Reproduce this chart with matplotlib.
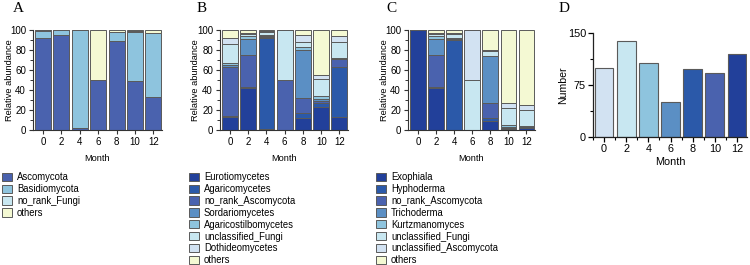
import numpy as np
import matplotlib
matplotlib.use("Agg")
import matplotlib.pyplot as plt
from matplotlib.patches import Patch
from matplotlib.ticker import MultipleLocator

plt.rcParams['font.family'] = ['Liberation Sans', 'DejaVu Sans']

months = ["0", "2", "4", "6", "8", "10", "12"]

# Panel A: phylum level
a_labels = ["Ascomycota", "Basidiomycota", "no_rank_Fungi", "others"]
a_ascomycota    = [92.5, 95.0, 1.7, 50.0, 89.0, 49.0, 33.3]
a_basidiomycota = [7.0, 4.8, 98.0, 0.0, 8.7, 49.3, 63.4]
a_no_rank_fungi = [0.3, 0.1, 0.2, 0.0, 0.8, 0.7, 0.3]
a_others        = [0.2, 0.1, 0.1, 50.0, 1.5, 1.0, 3.0]

# Panel B: class level
b_labels = ["Eurotiomycetes", "Agaricomycetes", "no_rank_Ascomycota", "Sordariomycetes",
            "Agaricostilbomycetes", "unclassified_Fungi", "Dothideomycetes", "others"]
b_eurotiomycetes       = [13.0, 42.5, 1.0, 0.0, 12.5, 23.5, 13.5]
b_agaricomycetes       = [1.0, 1.0, 91.0, 0.0, 5.0, 4.0, 50.0]
b_no_rank_ascomycota   = [49.0, 31.5, 1.0, 50.0, 15.0, 1.5, 7.5]
b_sordariomycetes      = [2.0, 16.5, 1.5, 0.0, 48.0, 2.0, 1.0]
b_agaricostilbomycetes = [2.5, 2.5, 1.0, 0.0, 2.5, 3.0, 0.5]
b_unclassified_fungi   = [18.5, 2.0, 3.0, 50.0, 5.0, 17.5, 16.0]
b_dothideomycetes      = [6.5, 1.5, 0.5, 0.0, 7.5, 4.0, 5.5]
b_others               = [7.5, 2.5, 1.0, 0.0, 4.5, 44.5, 6.0]

# Panel C: genus level
c_labels = ["Exophiala", "Hyphoderma", "no_rank_Ascomycota", "Trichoderma",
            "Kurtzmanomyces", "unclassified_Fungi", "unclassified_Ascomycota", "others"]
c_exophiala               = [100.0, 42.5, 0.5, 0.0, 9.5, 1.0, 2.5]
c_hyphoderma              = [0.0, 0.5, 90.0, 0.0, 3.0, 0.5, 1.0]
c_no_rank_ascomycota      = [0.0, 32.0, 0.3, 0.0, 14.5, 0.5, 0.3]
c_trichoderma             = [0.0, 16.5, 0.5, 0.0, 47.0, 1.0, 0.2]
c_kurtzmanomyces          = [0.0, 2.5, 0.7, 0.0, 0.5, 2.0, 0.5]
c_unclassified_fungi      = [0.0, 2.0, 4.0, 50.0, 5.0, 17.5, 16.0]
c_unclassified_ascomycota = [0.0, 1.5, 1.5, 50.0, 1.0, 5.0, 4.5]
c_others                  = [0.0, 2.5, 2.5, 0.0, 19.5, 72.5, 75.0]

# Panel D: number
d_months = [0, 2, 4, 6, 8, 10, 12]
d_number = [99, 139, 107, 51, 98, 93, 119]

# colours
NAVY = "#22409A"
BLUE = "#2B59A9"
MBLUE = "#4A62AE"
SBLUE = "#5B8FC4"
LBLUE = "#8EC4DE"
CYAN = "#C8E7F1"
PALE = "#D2E2F2"
YEL = "#F4F9D3"
EDGE = "#5a5a5a"

a_colors = [MBLUE, LBLUE, CYAN, YEL]
bc_colors = [NAVY, BLUE, MBLUE, SBLUE, LBLUE, CYAN, PALE, YEL]
d_colors = [PALE, CYAN, LBLUE, SBLUE, BLUE, MBLUE, NAVY]

W, H = 750, 265
fig = plt.figure(figsize=(7.5, 2.65), dpi=100)

def fx(px):
    return px / W

def fy(py):
    return 1 - py / H

TICK_FS = 7
LAB_FS = 6.7
LEG_FS = 6.85


def stacked(ax, series, colors, ylab_x):
    x = np.arange(len(months))
    bottom = np.zeros(len(months))
    for vals, col in zip(series, colors):
        vals = np.array(vals, dtype=float)
        ax.bar(x, vals, bottom=bottom, width=0.87, color=col,
               edgecolor=EDGE, linewidth=0.7)
        bottom += vals
    ax.set_xlim(-0.55, 6.47)
    ax.set_ylim(0, 100)
    ax.set_xticks(x)
    ax.set_xticklabels(months)
    ax.yaxis.set_major_locator(MultipleLocator(20))
    ax.yaxis.set_minor_locator(MultipleLocator(10))
    for s in ["top", "right"]:
        ax.spines[s].set_visible(False)
    for s in ["left", "bottom"]:
        ax.spines[s].set_linewidth(0.8)
        ax.spines[s].set_color("#333333")
    ax.tick_params(axis="both", which="major", direction="out", length=3,
                   width=0.8, labelsize=TICK_FS, pad=2, colors="#333333")
    ax.tick_params(axis="both", which="minor", direction="out", length=2,
                   width=0.7, colors="#333333")
    ax.tick_params(labelcolor="black")
    ax.set_xlabel("Month", fontsize=LAB_FS, labelpad=5)
    ax.set_ylabel("Relative abundance", fontsize=LAB_FS, va="center")
    ax.yaxis.set_label_coords(ylab_x, 0.5)


axA = fig.add_axes([fx(33), fy(130), fx(129), 100 / H])
stacked(axA, [a_ascomycota, a_basidiomycota, a_no_rank_fungi, a_others], a_colors,
        (9 - 33) / 129)

axB = fig.add_axes([fx(220), fy(130), fx(128), 100 / H])
stacked(axB, [b_eurotiomycetes, b_agaricomycetes, b_no_rank_ascomycota, b_sordariomycetes,
              b_agaricostilbomycetes, b_unclassified_fungi, b_dothideomycetes, b_others],
        bc_colors, (196 - 220) / 128)

axC = fig.add_axes([fx(408), fy(130), fx(127), 100 / H])
stacked(axC, [c_exophiala, c_hyphoderma, c_no_rank_ascomycota, c_trichoderma,
              c_kurtzmanomyces, c_unclassified_fungi, c_unclassified_ascomycota, c_others],
        bc_colors, (384 - 408) / 127)

axD = fig.add_axes([fx(593), fy(137), fx(154), 104 / H])
axD.bar(d_months, d_number, width=1.7, color=d_colors, edgecolor=EDGE, linewidth=0.8)
axD.set_xlim(-1.0, 12.9)
axD.set_ylim(0, 150)
axD.set_xticks(d_months)
axD.xaxis.set_minor_locator(MultipleLocator(1))
axD.set_yticks([0, 75, 150])
axD.yaxis.set_minor_locator(MultipleLocator(37.5))
for s in ["top", "right"]:
    axD.spines[s].set_visible(False)
for s in ["left", "bottom"]:
    axD.spines[s].set_linewidth(0.9)
    axD.spines[s].set_color("#222222")
axD.tick_params(axis="both", which="major", direction="out", length=3.5, width=0.9,
                labelsize=7.8, pad=1.5)
axD.tick_params(axis="both", which="minor", direction="out", length=2.5, width=0.8)
axD.set_xlabel("Month", fontsize=7.8, labelpad=2.5)
axD.set_ylabel("Number", fontsize=7.6, va="center")
axD.yaxis.set_label_coords((563 - 593) / 154, 0.5)

# panel letters
for letter, px in [("A", 13), ("B", 197), ("C", 386), ("D", 559)]:
    fig.text(fx(px), fy(8), letter, fontsize=11, family=["Liberation Serif", "DejaVu Serif"],
             va="center", ha="left")


def legend(labels, colors, left_px, top_px):
    handles = [Patch(facecolor=c, edgecolor=EDGE, linewidth=0.7) for c in colors]
    fig.legend(handles, labels, loc="upper left",
               bbox_to_anchor=(fx(left_px), fy(top_px)), frameon=False,
               fontsize=LEG_FS, handlelength=1.08, handleheight=0.95,
               handletextpad=0.5, labelspacing=0.2, borderpad=0, borderaxespad=0)


legend(a_labels, a_colors, 2, 172)
legend(b_labels, bc_colors, 189, 172)
legend(c_labels, bc_colors, 376, 172)

fig.savefig("out.png", dpi=100)
